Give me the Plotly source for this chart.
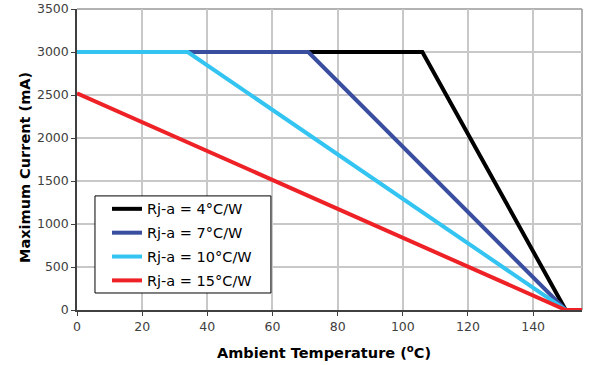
import plotly.graph_objects as go

# Data
series_names = ["Rj-a = 4°C/W", "Rj-a = 7°C/W", "Rj-a = 10°C/W", "Rj-a = 15°C/W"]
temps_4 = [0, 106, 150, 155]
current_4 = [3000, 3000, 0, 0]
temps_7 = [0, 71, 150, 155]
current_7 = [3000, 3000, 0, 0]
temps_10 = [0, 34, 150, 155]
current_10 = [3000, 3000, 0, 0]
temps_15 = [0, 150, 156]
current_15 = [2520, 0, 0]
colors = ["#000000", "#3a4ea0", "#33c4f2", "#ee2226"]

x_ticks = [0, 20, 40, 60, 80, 100, 120, 140]
y_ticks = [0, 500, 1000, 1500, 2000, 2500, 3000, 3500]
x_title = "Ambient Temperature (<sup>o</sup>C)"
y_title = "Maximum Current (mA)"

xs = [temps_4, temps_7, temps_10, temps_15]
ys = [current_4, current_7, current_10, current_15]

fig = go.Figure()
for i, (name, x, y, c) in enumerate(zip(series_names, xs, ys, colors)):
    fig.add_trace(go.Scatter(
        x=x, y=y, mode="lines", name=name,
        line=dict(color=c, width=4),
        legendgroup=f"g{i}",
        cliponaxis=False if i == 3 else True,
    ))

fig.update_layout(
    width=600, height=365,
    margin=dict(l=77, r=18, t=9, b=55, autoexpand=False),
    paper_bgcolor="white", plot_bgcolor="white",
    font=dict(family="DejaVu Sans", size=12.5, color="#404040"),
    showlegend=True,
    legend=dict(
        x=0.0594, y=0.389, xanchor="left", yanchor="top",
        bgcolor="rgba(0,0,0,0)", borderwidth=0,
        font=dict(family="DejaVu Sans", size=14.5, color="#000000"),
        traceorder="grouped", tracegroupgap=2,
        itemwidth=30,
    ),
)
fig.update_xaxes(
    range=[0, 155], tickvals=x_ticks, automargin=False,
    showgrid=True, gridcolor="#c8c8c8", gridwidth=1.5,
    showline=True, linecolor="#404040", linewidth=1.5, mirror=False,
    ticks="outside", ticklen=4, tickcolor="#404040",
    zeroline=False,
)
fig.update_yaxes(
    range=[0, 3500], tickvals=y_ticks, automargin=False,
    showgrid=True, gridcolor="#c8c8c8", gridwidth=1.5,
    showline=True, linecolor="#404040", linewidth=1.5, mirror=False,
    ticks="outside", ticklen=4, tickcolor="#404040",
    zeroline=False,
)
title_font = dict(family="DejaVu Sans", size=14.5, color="#000000", weight="bold")
fig.add_annotation(text=x_title, xref="paper", yref="paper", x=0.489, y=-0.1395,
                   xanchor="center", yanchor="middle", showarrow=False, font=title_font)
fig.add_annotation(text=y_title, xref="paper", yref="paper", x=-0.103, y=0.475,
                   xanchor="center", yanchor="middle", showarrow=False, textangle=-90,
                   font=title_font)
# gray border on top and right
fig.add_shape(type="line", xref="paper", yref="paper", x0=0, x1=1, y0=1, y1=1,
              line=dict(color="#999999", width=1.5), layer="below")
fig.add_shape(type="line", xref="paper", yref="paper", x0=1, x1=1, y0=0, y1=1,
              line=dict(color="#999999", width=1.5), layer="below")
# legend box
fig.add_shape(type="rect", xref="paper", yref="paper", x0=0.0356, x1=0.384,
              y0=0.0565, y1=0.379, fillcolor="white",
              line=dict(color="#000000", width=1), layer="above")

fig.write_html("out.html", post_script="document.body.style.margin='0';",
               config={"displayModeBar": False})
